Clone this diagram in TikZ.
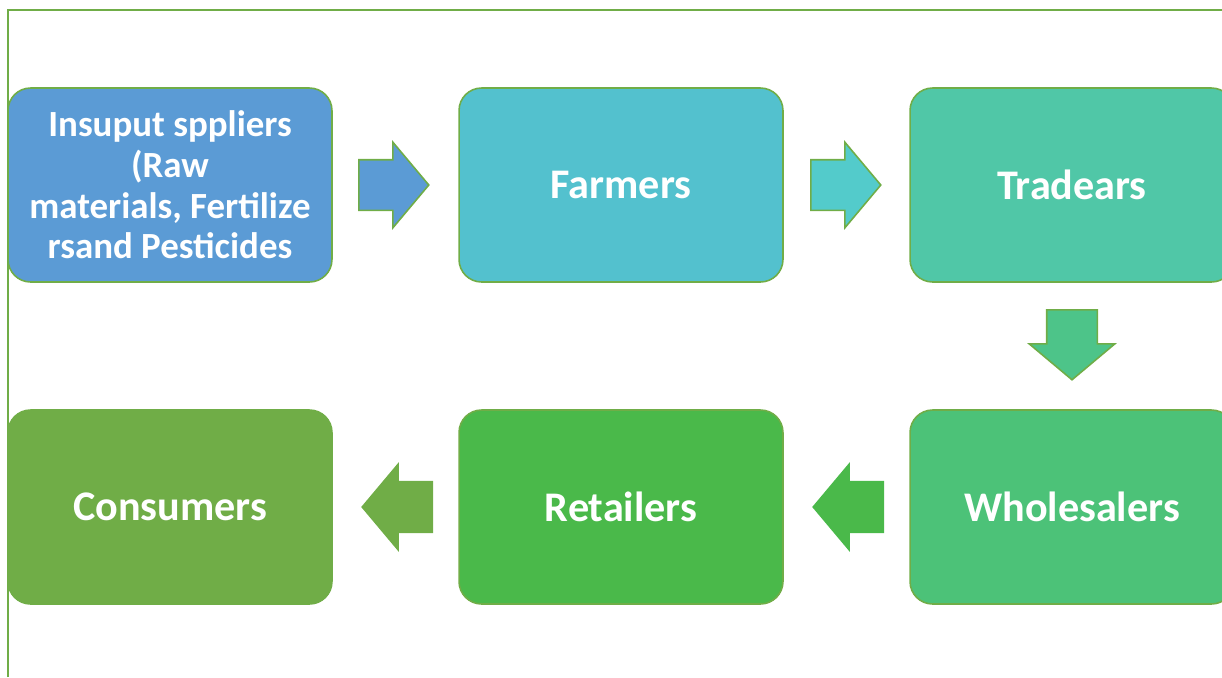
\documentclass[tikz,border=0pt]{standalone}
\usepackage{fontspec}
\setmainfont{Carlito}
\usepackage{tikz}
\usetikzlibrary{shapes.arrows,positioning}
\definecolor{edge}{HTML}{70AD47}
\definecolor{cIns}{HTML}{5B9BD5}
\definecolor{cFarm}{HTML}{53C1CE}
\definecolor{cTrade}{HTML}{50C7A7}
\definecolor{cWhole}{HTML}{4CC278}
\definecolor{cRetail}{HTML}{4AB94A}
\definecolor{cCons}{HTML}{70AD47}
\definecolor{aFarm}{HTML}{53CBCB}
\definecolor{aDown}{HTML}{4DC489}
\tikzset{%
    box/.style={%
        draw=edge, line width=0.9pt, rounded corners=0.45cm,
        minimum width=6.48cm, minimum height=3.88cm,
        text=white, align=center, font=\bfseries\fontsize{24}{26}\selectfont
    },
    flow/.style={%
        single arrow, draw=edge, line width=0.9pt, anchor=tail,
        inner xsep=0pt, inner ysep=0.49cm,
        minimum height=1.4cm,
        single arrow head extend=0.35cm, single arrow tip angle=100
    }
}
\begin{document}
\begin{tikzpicture}[x=0.02cm, y=-0.02cm]
    \useasboundingbox (0,0) rectangle (1222,677);
    \draw[edge, line width=1.2pt] (8,677) -- (8,10) -- (1222,10);

    \node[box, fill=cIns, font=\bfseries\fontsize{21}{23.2}\selectfont] (ins) at (170,185)
        {Insuput sppliers\\(Raw\\materials, Fertilize\\rsand Pesticides};
    \node[box, fill=cFarm] (farm) at (621,185) {Farmers};
    \node[box, fill=cTrade] (trade) at (1072,185) {Tradears};
    \node[box, fill=cWhole] (whole) at (1072,507) {Wholesalers};
    \node[box, fill=cRetail] (retail) at (621,507) {Retailers};
    \node[box, fill=cCons, draw=cCons] (cons) at (170,507) {Consumers};

    % block arrows between the stages
    \node[flow, fill=cIns] (a1) at (358,185) {};
    \node[flow, fill=aFarm] (a2) at (810,185) {};
    \node[flow, fill=aDown, shape border rotate=270,
        inner xsep=0.49cm, inner ysep=0pt] (a3) at (1072,309) {};
    \node[flow, fill=cRetail, draw=cRetail, shape border rotate=180] (a4) at (884,507) {};
    \node[flow, fill=cCons, draw=cCons, shape border rotate=180] (a5) at (433,507) {};
\end{tikzpicture}
\end{document}
